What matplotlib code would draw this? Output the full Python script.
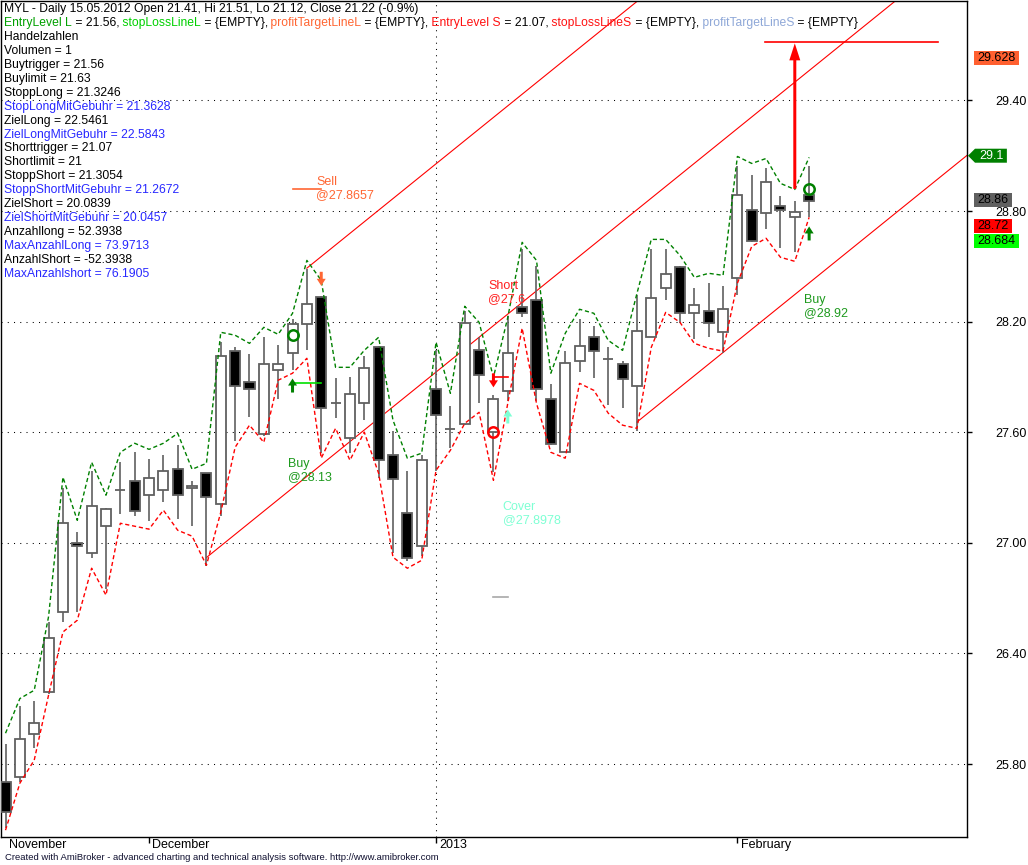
import matplotlib
matplotlib.use("Agg")
import matplotlib.pyplot as plt
from matplotlib.patches import Rectangle, Polygon
from matplotlib.transforms import IdentityTransform
from matplotlib.font_manager import FontProperties

# ---------------------------------------------------------------- data
opens = [25.700, 25.727, 25.965, 26.188, 26.627, 27.000, 26.947, 27.089, 27.284, 27.338,
         27.257, 27.289, 27.398, 27.295, 27.376, 27.213, 28.038, 27.875, 27.588, 27.935,
         28.027, 28.185, 28.331, 27.761, 27.571, 27.756, 28.060, 27.474, 27.159, 26.985,
         27.837, 27.615, 27.647, 28.044, 27.599, 27.826, 28.277, 28.315, 27.778, 27.495,
         27.984, 28.114, 27.995, 27.968, 27.848, 28.119, 28.385, 28.494, 28.244, 28.255,
         28.141, 28.434, 28.803, 28.787, 28.825, 28.765, 28.885]
highs = [25.910, 26.112, 26.144, 26.573, 27.300, 27.061, 27.392, 27.190, 27.441, 27.490,
         27.452, 27.479, 27.528, 27.338, 27.380, 28.092, 28.060, 28.022, 28.119, 28.071,
         28.212, 28.488, 28.340, 27.892, 27.902, 28.011, 28.065, 27.609, 27.392, 27.479,
         28.044, 27.740, 28.260, 28.114, 27.800, 28.233, 28.592, 28.499, 27.859, 28.038,
         28.212, 28.174, 28.060, 27.989, 28.347, 28.592, 28.592, 28.500, 28.380, 28.412,
         28.391, 29.042, 28.998, 29.031, 28.879, 28.857, 29.042]
lows = [25.455, 25.700, 25.889, 26.180, 26.568, 26.627, 26.915, 26.747, 27.154, 27.148,
        27.116, 27.224, 27.127, 27.089, 26.872, 27.148, 27.555, 27.685, 27.580, 27.778,
        27.940, 28.044, 27.485, 27.675, 27.485, 27.664, 27.354, 26.947, 26.904, 26.931,
        27.392, 27.517, 27.640, 27.756, 27.382, 27.772, 28.223, 27.772, 27.530, 27.490,
        27.924, 27.892, 27.745, 27.734, 27.609, 28.114, 28.315, 28.190, 28.103, 28.114,
        28.027, 28.347, 28.630, 28.705, 28.602, 28.575, 28.765]
closes = [25.537, 25.938, 26.025, 26.486, 27.105, 26.985, 27.197, 27.186, 27.284, 27.175,
          27.354, 27.387, 27.262, 27.306, 27.251, 28.016, 27.848, 27.837, 27.968, 27.968,
          28.185, 28.293, 27.734, 27.761, 27.805, 27.946, 27.447, 27.344, 26.915, 27.447,
          27.696, 27.615, 28.195, 27.908, 27.778, 28.027, 28.244, 27.837, 27.534, 27.973,
          28.065, 28.038, 27.995, 27.886, 28.147, 28.326, 28.456, 28.244, 28.288, 28.195,
          28.266, 28.885, 28.635, 28.955, 28.803, 28.792, 28.857]
upper_band = [25.967, 26.155, 26.200, 26.600, 27.356, 27.122, 27.437, 27.258, 27.491, 27.540,
              27.507, 27.540, 27.594, 27.399, 27.431, 28.142, 28.126, 28.082, 28.169, 28.131,
              28.245, 28.532, 28.424, 27.952, 27.952, 28.044, 28.115, 27.665, 27.459, 27.486,
              28.088, 27.811, 28.283, 28.196, 27.898, 28.223, 28.630, 28.532, 27.920, 28.136,
              28.267, 28.245, 28.098, 28.044, 28.353, 28.646, 28.646, 28.559, 28.440, 28.462,
              28.451, 29.096, 29.058, 29.085, 28.950, 28.917, 29.091]
lower_band = [25.441, 25.696, 25.821, 26.174, 26.516, 26.580, 26.862, 26.716, 27.106, 27.090,
              27.074, 27.177, 27.068, 27.036, 26.878, 27.166, 27.518, 27.638, 27.545, 27.882,
              27.920, 28.001, 27.459, 27.621, 27.448, 27.600, 27.377, 26.922, 26.862, 26.905,
              27.393, 27.502, 27.648, 27.708, 27.339, 27.757, 28.164, 27.757, 27.491, 27.459,
              27.865, 27.827, 27.703, 27.638, 27.621, 28.061, 28.250, 28.196, 28.082, 28.055,
              28.040, 28.408, 28.608, 28.652, 28.549, 28.527, 28.766]

month_labels = ["November", "December", "2013", "February"]
month_bars = [0, 10, 30, 51]
price_ticks = [25.80, 26.40, 27.00, 27.60, 28.20, 28.80, 29.40]

# trend channel lines (start bar, start price, common slope per bar)
trend_start_bars = [14, 21, 44]
trend_start_prices = [26.92, 28.49, 27.655]
trend_slope = 0.0629

# trade signals
buy_bars = [20, 56]
buy_prices = [28.13, 28.92]
sell_bars = [22]
sell_prices = [27.8657]
short_bars = [34]
short_prices = [27.6]
cover_bars = [35]
cover_prices = [27.8978]

# trade level segments: (from bar, to bar, price, colour)
trade_levels = [(20, 22, 27.8657, "#00E000"),
                (20, 22, 28.92, "#FF6633"),
                (34, 35, 27.8978, "#FF0000"),
                (34, 35, 26.705, "#A8A8A8"),
                (52.9, 65.0, 29.715, "#FF0000")]
target_arrow = (55, 28.92, 29.715)

# right axis value markers
marker_values = ["29.628", "29.1", "28.86", "28.72", "28.684"]
marker_colors = ["#FF6030", "#008000", "#606060", "#FF0000", "#00FF00"]
marker_text_colors = ["black", "white", "black", "black", "black"]

title_line = "MYL - Daily 15.05.2012 Open 21.41, Hi 21.51, Lo 21.12, Close 21.22 (-0.9%)"
GREEN_T, LIME_T, ORANGE_T, RED_T, LB_T, BLUE_T = "#00A000", "#00D000", "#FF6633", "#FF1010", "#8FA8D8", "#2828FF"
legend_pieces = [("EntryLevel L", GREEN_T), (" = 21.56,", "black"),
                 (" stopLossLineL", LIME_T), (" = {EMPTY},", "black"),
                 (" profitTargetLineL", ORANGE_T), (" = {EMPTY},", "black"),
                 (" EntryLevel S", RED_T), (" = 21.07,", "black"),
                 (" stopLossLineS", RED_T), (" = {EMPTY},", "black"),
                 (" profitTargetLineS", LB_T), (" = {EMPTY}", "black")]
info_lines = [("Handelzahlen", "black"), ("Volumen = 1", "black"),
              ("Buytrigger = 21.56", "black"), ("Buylimit = 21.63", "black"),
              ("StoppLong = 21.3246", "black"), ("StopLongMitGebuhr = 21.3628", BLUE_T),
              ("ZielLong = 22.5461", "black"), ("ZielLongMitGebuhr = 22.5843", BLUE_T),
              ("Shorttrigger = 21.07", "black"), ("Shortlimit = 21", "black"),
              ("StoppShort = 21.3054", "black"), ("StoppShortMitGebuhr = 21.2672", BLUE_T),
              ("ZielShort = 20.0839", "black"), ("ZielShortMitGebuhr = 20.0457", BLUE_T),
              ("Anzahllong = 52.3938", "black"), ("MaxAnzahlLong = 73.9713", BLUE_T),
              ("AnzahlShort = -52.3938", "black"), ("MaxAnzahlshort = 76.1905", BLUE_T)]
footer = "Created with AmiBroker - advanced charting and technical analysis software. http://www.amibroker.com"

# ---------------------------------------------------------------- layout
W, H, DPI = 1028, 865, 100
plt.rcParams["font.family"] = ["Liberation Sans", "DejaVu Sans"]
fig = plt.figure(figsize=(W / DPI, H / DPI), dpi=DPI)
fig.patch.set_facecolor("white")
ax = fig.add_axes([0.5 / W, 1 - 837 / H, 966.5 / W, 836.5 / H])
ax.set_facecolor("white")
XMIN, XMAX = -0.35, 67.0
ax.set_xlim(XMIN, XMAX)
ax.set_ylim(25.404, 29.942)
for s in ax.spines.values():
    s.set_color("black")
    s.set_linewidth(1.0)

# grid
for p in price_ticks:
    ax.axhline(p, color="black", lw=0.75, ls=(0, (1, 5)), zorder=1)
ax.axvline(month_bars[2], color="black", lw=0.75, ls=(0, (1, 5)), zorder=1)

# ticks
ax.yaxis.tick_right()
ax.set_yticks(price_ticks)
ax.set_yticklabels([f"{p:.2f}" for p in price_ticks])
ax.tick_params(axis="y", length=3.6, width=1, pad=16.5, labelsize=9, direction="out")
ax.set_xticks(month_bars[1:])
ax.set_xticklabels([])
ax.tick_params(axis="x", length=4.3, width=1, direction="out")
for lab, b in zip(month_labels, month_bars):
    ax.annotate(lab, xy=(b, 0), xycoords=("data", "axes fraction"), xytext=(2.3, -5.6),
                textcoords="offset points", ha="left", va="center", fontsize=9, color="black")

# trend channel lines
for sb, sp in zip(trend_start_bars, trend_start_prices):
    ax.plot([sb, XMAX], [sp, sp + trend_slope * (XMAX - sb)], color="#FF0000", lw=0.8, zorder=2)

# candles
BW = 0.7
for i, (o, h, l, c) in enumerate(zip(opens, highs, lows, closes)):
    ax.plot([i, i], [l, h], color="#606060", lw=1.2, zorder=3, solid_capstyle="butt")
    fc = "white" if c >= o else "black"
    ax.add_patch(Rectangle((i - BW / 2, min(o, c)), BW, abs(c - o), facecolor=fc,
                           edgecolor="#606060", lw=1.3, zorder=4))

# bands
xs = list(range(len(upper_band)))
ax.plot(xs, upper_band, color="#008000", lw=1.0, ls=(0, (3, 2)), zorder=5)
ax.plot(xs, lower_band, color="#FF0000", lw=1.0, ls=(0, (3, 2)), zorder=5)

# trade level segments
for x0, x1, p, col in trade_levels:
    ax.plot([x0, x1], [p, p], color=col, lw=1.2, zorder=6)


def px_arrow(xd, yd, direction, color, gap=9, length=14, head_len=7, head_w=9, shaft_w=3):
    x0, y0 = ax.transData.transform((xd, yd))
    s = 1 if direction == "up" else -1
    tip = y0 - s * gap
    hb = tip - s * head_len
    tail = tip - s * length
    verts = [(x0, tip), (x0 - head_w / 2, hb), (x0 - shaft_w / 2, hb), (x0 - shaft_w / 2, tail),
             (x0 + shaft_w / 2, tail), (x0 + shaft_w / 2, hb), (x0 + head_w / 2, hb)]
    ax.add_patch(Polygon(verts, closed=True, facecolor=color, edgecolor="none",
                         transform=IdentityTransform(), zorder=8))


for b in buy_bars:
    px_arrow(b, lows[b], "up", "#008000")
for b in cover_bars:
    px_arrow(b, lows[b], "up", "#7FFFD4")
for b in sell_bars:
    px_arrow(b, highs[b], "down", "#FF6633", gap=10)
for b in short_bars:
    px_arrow(b, highs[b], "down", "#FF0000", gap=8)

# circles at entry prices
ax.plot(buy_bars, buy_prices, "o", ms=7.5, mfc="none", mec="#008000", mew=1.8, zorder=9)
ax.plot(short_bars, short_prices, "o", ms=7.5, mfc="none", mec="#FF0000", mew=1.8, zorder=9)

# big target arrow
tb, p0, p1 = target_arrow
xa, ya0 = ax.transData.transform((tb, p0))
_, ya1 = ax.transData.transform((tb, p1))
ya1 -= 1
ax.add_patch(Polygon([(xa, ya1), (xa - 5.5, ya1 - 17), (xa - 1.5, ya1 - 17), (xa - 1.5, ya0),
                      (xa + 1.5, ya0), (xa + 1.5, ya1 - 17), (xa + 5.5, ya1 - 17)],
                     closed=True, facecolor="#FF0000", edgecolor="none",
                     transform=IdentityTransform(), zorder=8))

# signal labels
label_specs = [("Sell\n@%s" % "27.8657", sell_bars[0], 28.92, "#FF6633"),
               ("Buy\n@%s" % "28.13", buy_bars[0], 27.394, "#1E9A1E"),
               ("Short\n@%s" % "27.6", short_bars[0], 28.36, "#FF2020"),
               ("Cover\n@%s" % "27.8978", cover_bars[0], 27.16, "#7FFFD4"),
               ("Buy\n@%s" % "28.92", buy_bars[1], 28.28, "#1E9A1E")]
for txt, b, y, col in label_specs:
    ax.annotate(txt, xy=(b, y), xytext=(-3.6, 0), textcoords="offset points", ha="left",
                va="center", fontsize=9, color=col, linespacing=1.12, zorder=10)

# header texts
HF = 8.7
LH = 13.95
renderer = fig.canvas.get_renderer()
prop = FontProperties(family=["Liberation Sans", "DejaVu Sans"], size=HF)
fig.text(4 / W, 1 - 9 / H, title_line, fontsize=HF, color="black", va="center", ha="left")
prefix = ""
for s, col in legend_pieces:
    w = renderer.get_text_width_height_descent(prefix, prop, ismath=False)[0] if prefix else 0
    fig.text((4 + w) / W, 1 - (9 + LH) / H, s, fontsize=HF, color=col, va="center", ha="left")
    prefix += s
for k, (s, col) in enumerate(info_lines):
    fig.text(4 / W, 1 - (9 + LH * (k + 2)) / H, s, fontsize=HF, color=col,
             va="center", ha="left")

fig.text(5 / W, 1 - 858 / H, footer, fontsize=6.8, color="#101030", va="center", ha="left")

# right axis value markers
ys = []
for v in marker_values:
    ys.append(ax.transData.transform((0, float(v)))[1])
order = sorted(range(len(ys)), key=lambda k: -ys[k])
last = None
for k in order:
    if last is not None and last - ys[k] < 15:
        ys[k] = last - 15
    last = ys[k]
ax_right = ax.transAxes.transform((1, 0))[0]
for v, col, tc, y in zip(marker_values, marker_colors, marker_text_colors, ys):
    is_arrow = col == "#008000"
    tx = ax_right + (12 if is_arrow else 10)
    tt = fig.text(tx / W, y / H, v, fontsize=9, color=tc, va="center", ha="left", zorder=12)
    bb = tt.get_window_extent(renderer)
    x1 = bb.x1 + 3.5
    if is_arrow:
        verts = [(ax_right + 1, y), (ax_right + 8, y + 7), (x1, y + 7), (x1, y - 7), (ax_right + 8, y - 7)]
    else:
        x0 = tx - 3
        verts = [(x0, y - 7), (x0, y + 7), (x1, y + 7), (x1, y - 7)]
    fig.add_artist(Polygon(verts, closed=True, facecolor=col, edgecolor="none",
                           transform=IdentityTransform(), zorder=11))

fig.savefig("out.png", dpi=DPI, facecolor="white")
